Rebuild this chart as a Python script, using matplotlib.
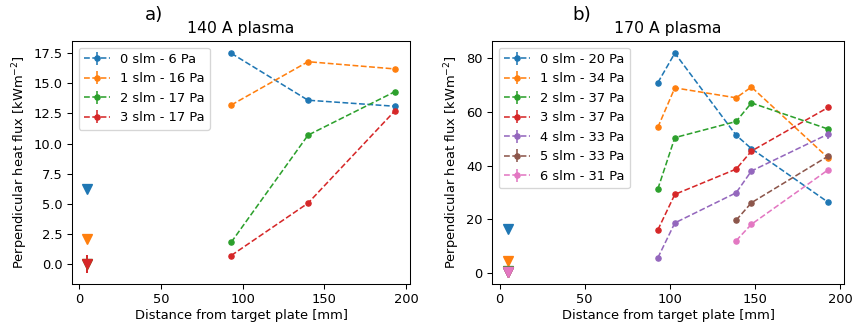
import numpy as np
import matplotlib
matplotlib.use("Agg")
import matplotlib.pyplot as plt

# 140 A plasma
x_a = [93, 140, 193]
labels_a = ["0 slm - 6 Pa", "1 slm - 16 Pa", "2 slm - 17 Pa", "3 slm - 17 Pa"]
q_a = [
    [17.5, 13.6, 13.1],
    [13.2, 16.8, 16.2],
    [1.8, 10.7, 14.3],
    [0.7, 5.05, 12.7],
]
err_a = [
    [0.1, 0.1, 0.1],
    [0.1, 0.1, 0.1],
    [0.1, 0.1, 0.1],
    [0.1, 0.1, 0.1],
]
plate_a = [6.2, 2.1, 0.0, 0.0]
plate_err_a = [0.2, 0.2, 0.2, 0.75]

# 170 A plasma
x_b = [
    [93, 103, 139, 148, 193],
    [93, 103, 139, 148, 193],
    [93, 103, 139, 148, 193],
    [93, 103, 139, 148, 193],
    [93, 103, 139, 148, 193],
    [139, 148, 193],
    [139, 148, 193],
]
labels_b = ["0 slm - 20 Pa", "1 slm - 34 Pa", "2 slm - 37 Pa", "3 slm - 37 Pa",
            "4 slm - 33 Pa", "5 slm - 33 Pa", "6 slm - 31 Pa"]
q_b = [
    [70.8, 81.8, 51.3, 46.3, 26.4],
    [54.2, 68.9, 65.2, 69.2, 42.9],
    [31.3, 50.4, 56.4, 63.3, 53.6],
    [16.1, 29.3, 38.7, 45.4, 61.6],
    [5.7, 18.7, 29.9, 38.0, 51.7],
    [19.7, 26.2, 43.5],
    [12.1, 18.2, 38.4],
]
err_b = [
    [0.4, 0.4, 0.4, 0.4, 0.4],
    [0.4, 0.4, 0.4, 0.4, 0.4],
    [0.4, 0.4, 0.4, 0.4, 0.4],
    [0.4, 0.4, 0.4, 0.4, 0.4],
    [0.4, 0.4, 0.4, 0.4, 1.8],
    [0.4, 0.4, 0.4],
    [0.4, 0.4, 0.4],
]
plate_b = [16.5, 4.4, 1.0, 0.5, 0.5, 0.5, 0.4]
plate_x = 5

colors = plt.rcParams['axes.prop_cycle'].by_key()['color']

# figure was drawn with default fonts at a reduced resolution
fig = plt.figure(figsize=(853 / 94, 323 / 94), dpi=94)
ax1 = fig.add_axes([0.0844, 0.1207, 0.3963, 0.7523])
ax2 = fig.add_axes([0.5768, 0.1207, 0.4127, 0.7523])

for i in range(len(q_a)):
    ax1.errorbar(x_a, q_a[i], yerr=err_a[i], fmt='o--', color=colors[i],
                 markersize=4, linewidth=1.2, label=labels_a[i])
    ax1.errorbar([plate_x], [plate_a[i]], yerr=[plate_err_a[i]], fmt='v',
                 color=colors[i], markersize=8)

for i in range(len(q_b)):
    ax2.errorbar(x_b[i], q_b[i], yerr=err_b[i], fmt='o--', color=colors[i],
                 markersize=4, linewidth=1.2, label=labels_b[i])
    ax2.errorbar([plate_x], [plate_b[i]], yerr=[0.3], fmt='v',
                 color=colors[i], markersize=8)

ax1.set_title("140 A plasma")
ax2.set_title("170 A plasma")
fig.text(0.170, 0.938, "a)", fontsize=14)
fig.text(0.671, 0.938, "b)", fontsize=14)

ax1.set_yticks([0, 2.5, 5, 7.5, 10, 12.5, 15, 17.5])
for ax in (ax1, ax2):
    ax.set_xlabel("Distance from target plate [mm]", labelpad=2)
    ax.set_ylabel(r"Perpendicular heat flux [kWm$^{-2}$]", labelpad=3)
    ax.set_xticks([0, 50, 100, 150, 200])
    ax.legend(loc='upper left')

fig.savefig("out.png", dpi=94)
